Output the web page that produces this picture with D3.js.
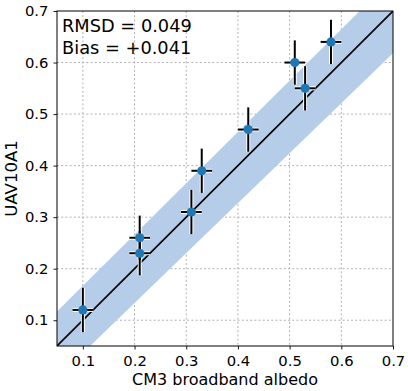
<!DOCTYPE html>
<html>
<head>
<meta charset="utf-8">
<script src="https://cdn.jsdelivr.net/npm/d3@7"></script>
<style>
  html, body { margin: 0; padding: 0; background: #fff; }
  svg { display: block; font-family: "DejaVu Sans", sans-serif; }
</style>
</head>
<body>
<div id="chart"></div>
<script>
// CM3 vs UAV albedo scatter with error bars and uncertainty band

const cm3 = [0.10, 0.21, 0.21, 0.31, 0.33, 0.42, 0.51, 0.53, 0.58];
const uav = [0.12, 0.26, 0.23, 0.31, 0.39, 0.47, 0.60, 0.55, 0.64];
const xErr = [0.02, 0.02, 0.02, 0.02, 0.02, 0.02, 0.02, 0.02, 0.02];
const yErr = [0.043, 0.043, 0.043, 0.043, 0.043, 0.043, 0.043, 0.043, 0.043];

// shaded band around the 1:1 line
const bandX = [0.05, 0.7];
const bandLow = [-0.012, 0.618];
const bandHigh = [0.117, 0.764];

const ticks = [0.1, 0.2, 0.3, 0.4, 0.5, 0.6, 0.7];
const statLines = ["RMSD = 0.049", "Bias = +0.041"];

const width = 408, height = 391;
const margin = { top: 11, right: 15, bottom: 45, left: 57 };
const w = width - margin.left - margin.right;
const h = height - margin.top - margin.bottom;

const svg = d3.select("#chart").append("svg")
  .attr("width", width)
  .attr("height", height);

const g = svg.append("g")
  .attr("transform", `translate(${margin.left},${margin.top})`);

const x = d3.scaleLinear().domain([0.05, 0.7]).range([0, w]);
const y = d3.scaleLinear().domain([0.05, 0.7]).range([h, 0]);

svg.append("defs").append("clipPath").attr("id", "clip")
  .append("rect").attr("width", w).attr("height", h);

// grid
const grid = g.append("g").attr("class", "grid");
grid.selectAll(".gx").data(ticks.slice(0, -1)).join("line")
  .attr("x1", d => x(d)).attr("x2", d => x(d))
  .attr("y1", 0).attr("y2", h);
grid.selectAll(".gy").data(ticks.slice(0, -1)).join("line")
  .attr("class", "gy")
  .attr("y1", d => y(d)).attr("y2", d => y(d))
  .attr("x1", 0).attr("x2", w);
grid.selectAll("line")
  .attr("stroke", "#b0b0b0")
  .attr("stroke-width", 1)
  .attr("stroke-dasharray", "2,2.2");

const plot = g.append("g").attr("clip-path", "url(#clip)");

// band
const bandData = bandX.map((v, i) => ({ x: v, lo: bandLow[i], hi: bandHigh[i] }));
plot.append("path")
  .datum(bandData)
  .attr("fill", "#b5cde8")
  .attr("d", d3.area().x(d => x(d.x)).y0(d => y(d.lo)).y1(d => y(d.hi)));

// 1:1 line
plot.append("line")
  .attr("x1", x(0.05)).attr("y1", y(0.05))
  .attr("x2", x(0.7)).attr("y2", y(0.7))
  .attr("stroke", "#000")
  .attr("stroke-width", 1.6);

const pts = cm3.map((v, i) => ({ x: v, y: uav[i], ex: xErr[i], ey: yErr[i] }));

// error bars (white halo underneath, then black)
[["#fff", 4], ["#000", 2]].forEach(([col, sw]) => {
  const eb = plot.append("g");
  eb.selectAll(".v").data(pts).join("line")
    .attr("x1", d => x(d.x)).attr("x2", d => x(d.x))
    .attr("y1", d => y(d.y - d.ey)).attr("y2", d => y(d.y + d.ey))
    .attr("stroke", col).attr("stroke-width", sw);
  eb.selectAll(".h").data(pts).join("line")
    .attr("class", "h")
    .attr("x1", d => x(d.x - d.ex)).attr("x2", d => x(d.x + d.ex))
    .attr("y1", d => y(d.y)).attr("y2", d => y(d.y))
    .attr("stroke", col).attr("stroke-width", sw);
});

plot.selectAll(".pt").data(pts).join("circle")
  .attr("cx", d => x(d.x))
  .attr("cy", d => y(d.y))
  .attr("r", 4.6)
  .attr("fill", "#1f77b4");

// axes
const xAxis = g.append("g")
  .attr("transform", `translate(0,${h})`)
  .call(d3.axisBottom(x).tickValues(ticks).tickSize(3.5).tickPadding(6).tickFormat(d3.format(".1f")));
const yAxis = g.append("g")
  .call(d3.axisLeft(y).tickValues(ticks).tickSize(3.5).tickPadding(5).tickFormat(d3.format(".1f")));
[xAxis, yAxis].forEach(a => {
  a.select(".domain").remove();
  a.selectAll("line").attr("stroke", "#000").attr("stroke-width", 0.9);
  a.selectAll("text").attr("font-size", 14.8).attr("font-family", "DejaVu Sans").attr("fill", "#000");
});

// frame
g.append("rect")
  .attr("width", w).attr("height", h)
  .attr("fill", "none")
  .attr("stroke", "#000")
  .attr("stroke-width", 1);

// stats text
g.append("text")
  .attr("x", 5)
  .attr("y", 21)
  .attr("font-size", 17.8)
  .selectAll("tspan").data(statLines).join("tspan")
  .attr("x", 5)
  .attr("dy", (d, i) => i === 0 ? 0 : 22)
  .text(d => d);

// axis labels
svg.append("text")
  .attr("x", margin.left + w / 2)
  .attr("y", 385)
  .attr("text-anchor", "middle")
  .attr("font-size", 16)
  .text("CM3 broadband albedo");

svg.append("text")
  .attr("transform", `translate(17,${margin.top + h / 2}) rotate(-90)`)
  .attr("text-anchor", "middle")
  .attr("font-size", 16.5)
  .text("UAV10A1");
</script>
</body>
</html>
